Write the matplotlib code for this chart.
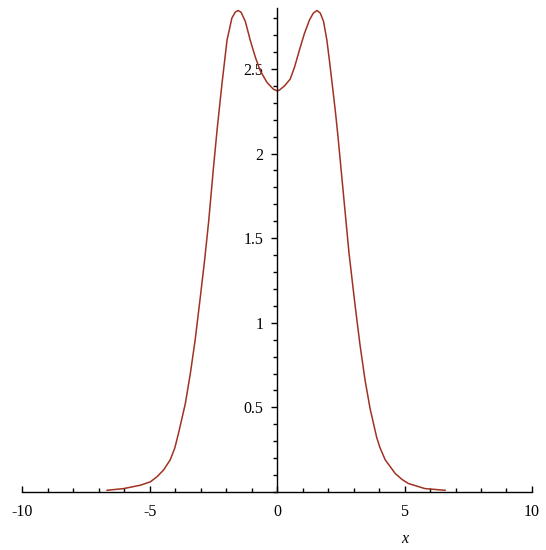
import numpy as np
import matplotlib
matplotlib.use('Agg')
import matplotlib.pyplot as plt
from matplotlib.ticker import MultipleLocator, FixedLocator

# points
x_pts = [-6.68, -6.03, -5.37, -4.98, -4.72, -4.46, -4.20, -4.02, -3.87, -3.61,
         -3.41, -3.22, -3.02, -2.85, -2.69, -2.50, -2.36, -2.17, -1.97, -1.78,
         -1.65, -1.54, -1.42, -1.25, -1.06, -0.86, -0.67, -0.40, -0.15, 0.0,
         0.09, 0.29, 0.51, 0.68, 0.87, 1.07, 1.27, 1.42, 1.56, 1.69,
         1.82, 1.95, 2.05, 2.16, 2.29, 2.38, 2.60, 2.82, 3.06, 3.25,
         3.45, 3.65, 3.91, 4.04, 4.24, 4.63, 4.89, 5.15, 5.80, 6.59]
y_pts = [0.01, 0.02, 0.04, 0.06, 0.09, 0.13, 0.19, 0.26, 0.35, 0.52,
         0.70, 0.90, 1.15, 1.37, 1.60, 1.92, 2.14, 2.41, 2.67, 2.80,
         2.835, 2.845, 2.835, 2.78, 2.67, 2.57, 2.49, 2.42, 2.38, 2.37,
         2.375, 2.40, 2.44, 2.51, 2.61, 2.71, 2.79, 2.83, 2.845, 2.83,
         2.78, 2.67, 2.55, 2.41, 2.24, 2.11, 1.76, 1.41, 1.10, 0.87,
         0.66, 0.49, 0.32, 0.26, 0.19, 0.11, 0.075, 0.05, 0.02, 0.01]

x_ticks = [-10, -5, 0, 5, 10]
y_ticks = [0.5, 1, 1.5, 2, 2.5]

plt.rcParams['font.family'] = ['Liberation Serif', 'DejaVu Serif']
plt.rcParams['axes.unicode_minus'] = False

fig = plt.figure(figsize=(5.46, 5.5), dpi=100)
ax = fig.add_axes([0.0412, 0.1055, 0.933, 0.88])
ax.plot(x_pts, y_pts, color='#a03222', lw=1.1)

ax.set_xlim(-10, 10)
ax.set_ylim(0, 2.86)
ax.spines['left'].set_position(('data', 0))
ax.spines['bottom'].set_position(('data', 0))
ax.spines['top'].set_visible(False)
ax.spines['right'].set_visible(False)
for s in ['left', 'bottom']:
    ax.spines[s].set_linewidth(1.0)

ax.xaxis.set_major_locator(FixedLocator(x_ticks))
ax.xaxis.set_minor_locator(MultipleLocator(1))
ax.yaxis.set_major_locator(FixedLocator(y_ticks))
ax.yaxis.set_minor_locator(MultipleLocator(0.1))
ax.set_xticklabels([str(v) for v in x_ticks])
ax.set_yticklabels(['0.5', '1', '1.5', '2', '2.5'])

ax.tick_params(axis='x', which='both', direction='in', labelsize=11.5, pad=9)
ax.tick_params(axis='x', which='major', length=4.5, width=1)
ax.tick_params(axis='x', which='minor', length=3, width=1)
ax.tick_params(axis='y', which='both', direction='out', labelsize=11.5, pad=6)
ax.tick_params(axis='y', which='major', length=4, width=1)
ax.tick_params(axis='y', which='minor', length=3, width=1)

ax.set_xlabel('x', style='italic', fontsize=11.5)
ax.xaxis.set_label_coords(0.75, -0.08)

fig.savefig('out.png', dpi=100)
